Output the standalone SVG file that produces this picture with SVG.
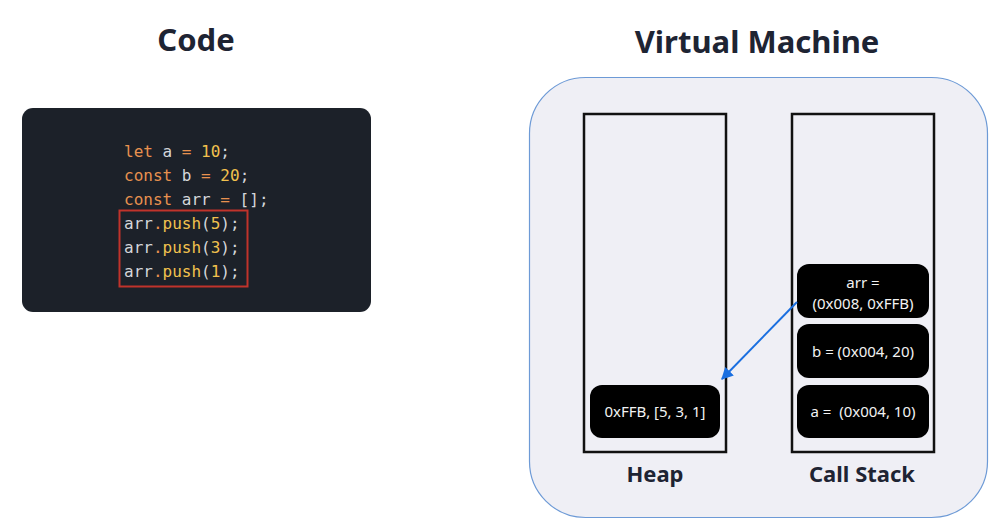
<svg xmlns="http://www.w3.org/2000/svg" width="1003" height="522" viewBox="0 0 1003 522">
<style>
.title{font-family:"Noto Sans","Open Sans",sans-serif;font-weight:700;fill:#1e2433;text-anchor:middle}
.lbl{font-family:"Noto Sans","Open Sans",sans-serif;font-weight:700;font-size:22px;fill:#1e2433;text-anchor:middle}
.code{font-family:"DejaVu Sans Mono","Liberation Mono",monospace;font-size:16px;fill:#d4d6da}
.kw{fill:#e8914f}
.num{fill:#f2c14e}
.op{fill:#e8914f}
.fn{fill:#f2c14e}
.col{fill:none;stroke:#111;stroke-width:2.5}
.node rect{fill:#000}
.node text{font-family:"Noto Sans","Open Sans",sans-serif;font-size:15px;fill:#f2f2f2;text-anchor:middle}
</style>
<defs>
<marker id="ah" viewBox="0 0 10 10" refX="9" refY="5" markerWidth="6" markerHeight="6" orient="auto-start-reverse">
<path d="M0,0 L10,5 L0,10 z" fill="#1a6fe0"/>
</marker>
</defs>
<rect width="1003" height="522" fill="#ffffff"/>
<text class="title" x="196" y="51" font-size="31">Code</text>
<text class="title" x="757" y="53" font-size="31">Virtual Machine</text>
<g id="code">
<rect x="22" y="108" width="349" height="204" rx="11" fill="#1c2129"/>
<text class="code" x="124" y="157"><tspan class="kw">let</tspan> a <tspan class="op">=</tspan> <tspan class="num">10</tspan>;</text>
<text class="code" x="124" y="181"><tspan class="kw">const</tspan> b <tspan class="op">=</tspan> <tspan class="num">20</tspan>;</text>
<text class="code" x="124" y="205"><tspan class="kw">const</tspan> arr <tspan class="op">=</tspan> [];</text>
<text class="code" x="124" y="229">arr<tspan class="op">.</tspan><tspan class="fn">push</tspan>(<tspan class="num">5</tspan>);</text>
<text class="code" x="124" y="253">arr<tspan class="op">.</tspan><tspan class="fn">push</tspan>(<tspan class="num">3</tspan>);</text>
<text class="code" x="124" y="277">arr<tspan class="op">.</tspan><tspan class="fn">push</tspan>(<tspan class="num">1</tspan>);</text>
<rect x="119.5" y="210.5" width="128" height="76" fill="none" stroke="#c0332b" stroke-width="2"/>
</g>
<g id="vm">
<rect x="529.5" y="77.5" width="458" height="440" rx="56" fill="#efeff5" stroke="#6d9ad6" stroke-width="1.2"/>
</g>
<g id="heap">
<rect class="col" x="584" y="114" width="142" height="338"/>
<text class="lbl" x="655" y="482">Heap</text>
</g>
<g id="callstack">
<rect class="col" x="792" y="114" width="142" height="338"/>
<text class="lbl" x="862" y="482">Call Stack</text>
</g>
<g id="heap-node" class="node">
<rect x="590" y="385" width="130" height="53" rx="12"/>
<text x="655" y="417">0xFFB, [5, 3, 1]</text>
</g>
<g id="stack-arr" class="node">
<rect x="797" y="264" width="132" height="54" rx="12"/>
<text x="863" y="288">arr =</text>
<text x="863" y="309">(0x008, 0xFFB)</text>
</g>
<g id="stack-b" class="node">
<rect x="797" y="324" width="132" height="54" rx="12"/>
<text x="863" y="357">b = (0x004, 20)</text>
</g>
<g id="stack-a" class="node">
<rect x="797" y="385" width="132" height="53" rx="12"/>
<text x="863" y="417">a =&#160; (0x004, 10)</text>
</g>
<g id="connectors">
<line x1="797" y1="302" x2="722" y2="379" stroke="#1a6fe0" stroke-width="2" marker-end="url(#ah)"/>
</g>
</svg>
